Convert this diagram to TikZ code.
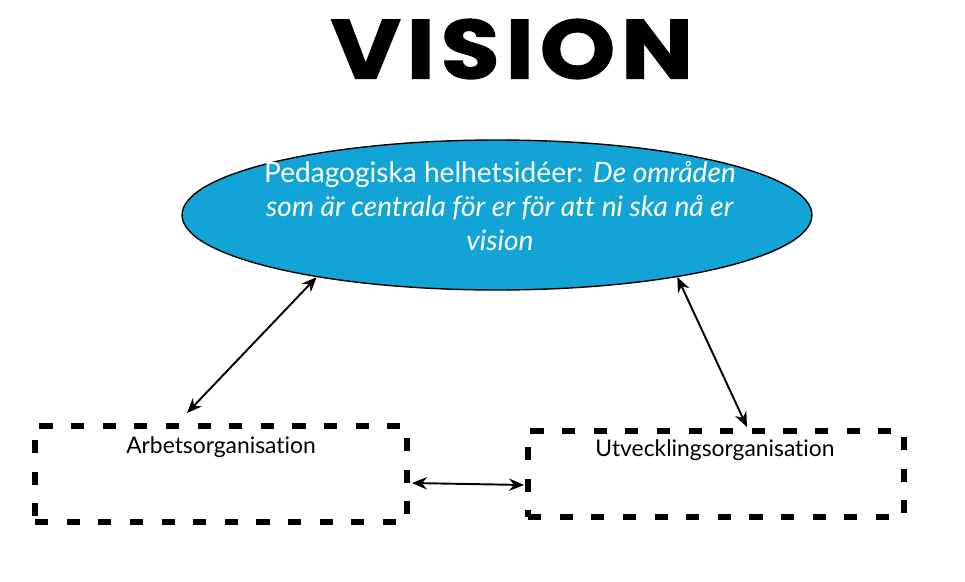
\documentclass[tikz,border=0pt]{standalone}
\usepackage{fontspec}
\setmainfont{Lato}[Ligatures=NoCommon]
\newfontfamily\titlefont{Poppins}[FakeStretch=1.15, FakeBold=1.5, LetterSpace=7]
\usetikzlibrary{shapes.geometric,arrows.meta,calc}
\definecolor{visionblue}{RGB}{18,164,214}

\begin{document}
\begin{tikzpicture}[x=0.02cm,y=-0.02cm,
	orgbox/.style={draw, line width=3.4pt, dash pattern=on 7.5pt off 10.5pt, inner sep=0pt},
	orglabel/.style={font=\fontsize{13}{15}\selectfont},
	link/.style={{Stealth[length=8.5pt,width=7pt]}-{Stealth[length=8.5pt,width=7pt]}, line width=1.1pt}]
	
	\useasboundingbox (0,0) rectangle (965,582);
	
	% Title
	\node (title) at (512,49) {\titlefont\bfseries\fontsize{47.5}{52}\selectfont VISION};
	
	% Main ellipse
	\node (vision) [ellipse, draw, line width=0.8pt, fill=visionblue, inner sep=0pt,
		minimum width=12.6cm, minimum height=3cm] at (497,215) {};
	\node (ideas) [white, align=center, font=\fontsize{16}{19.5}\selectfont] at (500,206)
		{Pedagogiska helhetsidéer: \textit{De områden}\\
		 \textit{som är centrala för er för att ni ska nå er}\\
		 \textit{vision}};
	
	% Dashed boxes
	\node (arbete) [orgbox, minimum width=7.44cm, minimum height=1.92cm] at (221,474) {};
	\node (utv) [orgbox, minimum width=7.52cm, minimum height=1.72cm] at (716,474) {};
	
	% Box labels
	\node (arbtxt) [orglabel] at (221,447) {Arbetsorganisation};
	\node (utvtxt) [orglabel] at (715,450) {Utvecklingsorganisation};
	
	% Double arrows
	\draw[link] ($(arbete.north)+(-34,-10)$) -- (vision.199);
	\draw[link] (vision.341) -- ($(utv.north)+(31,-1)$);
	\draw[link] ($(arbete.east)+(2,9)$) -- ($(utv.west)+(-1,11)$);
	
\end{tikzpicture}
\end{document}
